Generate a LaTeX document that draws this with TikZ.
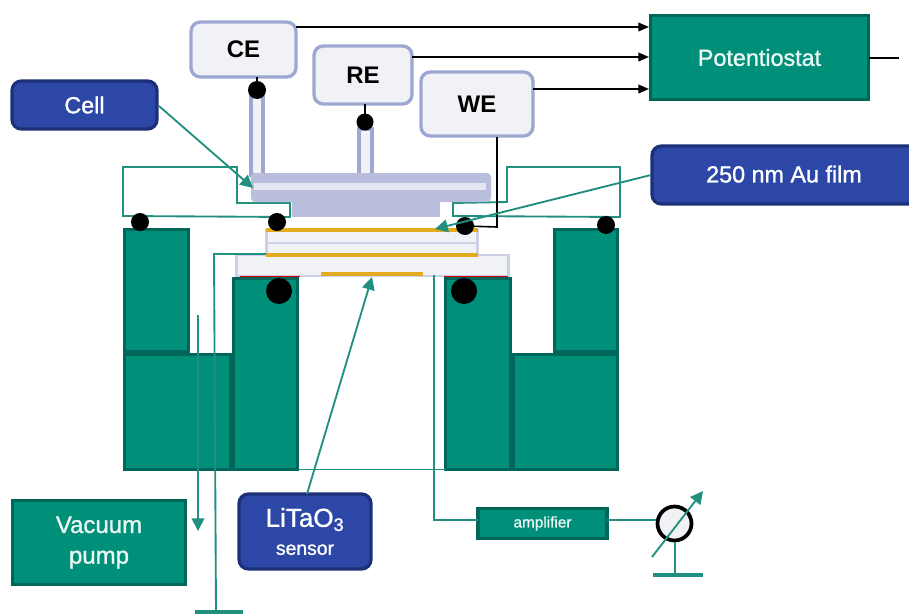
\documentclass[tikz,border=0pt]{standalone}
\usepackage{fontspec}
\setmainfont{Liberation Sans}
\newfontfamily\semibold[FakeBold=1.2]{Liberation Sans}
\usetikzlibrary{arrows.meta,calc}
\definecolor{tealf}{HTML}{009079}
\definecolor{teald}{HTML}{00665A}
\definecolor{teall}{HTML}{22907F}
\definecolor{bluef}{HTML}{2C47A6}
\definecolor{blued}{HTML}{1C2F78}
\definecolor{lightf}{HTML}{F1F2F6}
\definecolor{lightd}{HTML}{9DA7D2}
\definecolor{lav}{HTML}{B9BEDD}
\definecolor{lavl}{HTML}{E4E6F1}
\definecolor{gold}{HTML}{E3AC20}
\tikzset{
 sz/.style 2 args={minimum width=#1*0.75pt,minimum height=#2*0.75pt,inner sep=0pt,outer sep=0pt},
 ebox/.style={draw=lightd,fill=lightf,line width=2.5pt,rounded corners=7pt,font=\bfseries\fontsize{18}{20}\selectfont,text=black},
 lblue/.style={draw=blued,fill=bluef,line width=2.4pt,rounded corners=7pt,text=white,font=\semibold\fontsize{17.5}{20}\selectfont},
 tbox/.style={draw=teald,fill=tealf,line width=2.4pt,text=white!92!tealf,font=\semibold\fontsize{17.5}{22}\selectfont,align=center},
 block/.style={draw=teald,fill=tealf,line width=2.6pt},
 oring/.style={circle,fill=black,inner sep=0pt,outer sep=0pt},
 wire/.style={draw=black,line width=1.2pt},
 twire/.style={draw=teall,line width=1.4pt},
 blackarrow/.style={wire,-{Triangle[length=8pt,width=6.5pt]}},
 tealarrow/.style={twire,-{Triangle[length=9.5pt,width=9.5pt]}},
 gasket/.style={draw=lightf!55!lightd,fill=lightf,line width=1.6pt},
 goldl/.style={draw=gold,line width=2.6pt},
 tube/.style={draw=lightd,fill=lightf,line width=2.3pt},
 gbar/.style={draw=teall,line width=3pt},
}
\begin{document}
\begin{tikzpicture}[x=0.75pt,y=-0.75pt]
\useasboundingbox (0,0) rectangle (909,614);
% block bodies
\node[block,sz={64}{122}] (tl) at (156.5,290.5) {};
\node[block,sz={106}{115}] (bl) at (177.5,412) {};
\node[block,sz={64}{191}] (il) at (265.5,374) {};
\node[block,sz={65}{191}] (ir) at (478,374) {};
\node[block,sz={104}{115}] (br) at (565.5,412) {};
\node[block,sz={63}{122}] (tr) at (586,290.5) {};
% chamber outlines
\coordinate (la) at (123,167);\coordinate (lb) at (237,167);\coordinate (lc) at (237,203);\coordinate (ld) at (290,203);\coordinate (le) at (290,217);\coordinate (lf) at (123,216);
\draw[twire] (la) -- (lb) -- (lc) -- (ld) -- (le) -- (lf) -- cycle;
\coordinate (ra) at (507,167);\coordinate (rb) at (620,167);\coordinate (rc) at (620,217);\coordinate (rd) at (453,216);\coordinate (re) at (453,203);\coordinate (rf) at (507,202);
\draw[twire] (ra) -- (rb) -- (rc) -- (rd) -- (re) -- (rf) -- cycle;
% cell
\node[tube,sz={12}{86}] (tce) at (257,132) {};
\node[tube,sz={13}{46}] (tre) at (365.5,152) {};
\node[draw=none,fill=lav,sz={148}{24}] (clow) at (366,205) {};
\node[draw=none,fill=lav,rounded corners=3pt,sz={240}{29}] (ctop) at (371,187.5) {};
\node[draw=none,fill=lavl,sz={232}{7}] (cstrip) at (370,186.5) {};
% sensor plates
\node[gasket,sz={211}{25}] (p1) at (372,243) {};
\draw[draw=lavl!50!lav,line width=2.2pt] (p1.west) -- (p1.east);
\node[gasket,sz={272}{21}] (p2) at (372.5,265.5) {};
\draw[goldl] (266,230) -- (478,230);
\draw[goldl] (266,255) -- (478,255);
\draw[goldl] (321,274) -- (423,274);
\draw[draw=red!80!black,line width=0.6pt] (240,276) -- (300,276);
\draw[draw=red!80!black,line width=0.6pt] (444,276) -- (508,276);
% o-rings
\node[oring,minimum size=18*0.75pt] (o1) at (140,222) {};
\node[oring,minimum size=18*0.75pt] (o2) at (277,222) {};
\node[oring,minimum size=18*0.75pt] (o3) at (465,226) {};
\node[oring,minimum size=18*0.75pt] (o4) at (606,225) {};
\node[oring,minimum size=26*0.75pt] (o5) at (279,291) {};
\node[oring,minimum size=26*0.75pt] (o6) at (464,291) {};
% electrodes
\node[ebox,sz={105}{55}] (ce) at (243.5,49.5) {CE};
\node[ebox,sz={98}{58}] (rr) at (363,75) {RE};
\node[ebox,sz={112}{64}] (we) at (477,104) {WE};
\node[tbox,sz={218}{84}] (pot) at (759.5,57.5) {Potentiostat};
\coordinate (p1i) at (649,27);\coordinate (p2i) at (649,57);\coordinate (p3i) at (649,89);\coordinate (pout) at (899,58);
\draw[blackarrow] (ce.east |- p1i) -- (p1i);
\draw[blackarrow] (rr.east |- p2i) -- (p2i);
\draw[blackarrow] (we.east |- p3i) -- (p3i);
\draw[wire] (pot.east |- pout) -- (pout);
\node[oring,minimum size=18*0.75pt] (dce) at (257,90) {};
\node[oring,minimum size=17*0.75pt] (dre) at (365,122) {};
\draw[wire] (dce) -- (ce.south -| dce);
\draw[wire] (dre) -- (rr.south -| dre);
\coordinate (wetap) at (497,137);
\coordinate (wecor) at (497,227);
\draw[wire] (wetap) -- (wecor) -- (o3);
% labels
\node[lblue,sz={145}{48}] (cell) at (84.5,105) {Cell};
\node[lblue,sz={268}{58}] (au) at (786,175) {\raisebox{1.5pt}{250 nm Au film\hspace{3pt}}};
\node[lblue,sz={132}{75},align=center,font=\semibold\fontsize{19.5}{22}\selectfont] (lt) at (305,531.5) {LiTaO\textsubscript{3}\\[-1pt]{\fontsize{14.5}{16}\selectfont sensor}};
\node[tbox,sz={173}{84},font=\semibold\fontsize{18}{22}\selectfont] (vac) at (99,542.5) {\raisebox{-2pt}{Vacuum}\\\raisebox{-3pt}{pump}};
\node[tbox,sz={129}{30},font=\semibold\fontsize{11.5}{13}\selectfont] (amp) at (542.5,523.5) {amplifier};
% pointers
\coordinate (cellt) at (253,188);\coordinate (cells) at (159,106);
\draw[tealarrow] (cells) -- (cellt);
\coordinate (aut) at (435,229);\coordinate (aus) at (651,175);
\draw[tealarrow] (aus) -- (aut);
\coordinate (ltt) at (372,277);
\draw[tealarrow] (lt.north) ++(2,0) -- (ltt);
% vacuum line & grounds
\coordinate (vt) at (198,315);\coordinate (vb) at (198,531);
\draw[tealarrow] (vt) -- (vb);
\coordinate (g1a) at (214,254);\coordinate (g1b) at (266,254);\coordinate (g1c) at (216,612);
\draw[twire] (g1b) -- (g1a) -- (g1c);
\coordinate (g1l) at (195,612);\coordinate (g1r) at (243,612);
\draw[gbar] (g1l) -- (g1r);
\draw[twire] (il.south east) -- (ir.south west);
\coordinate (aa) at (434,275);\coordinate (ab) at (434,520);
\draw[twire] (aa) -- (ab) -- (ab -| amp.west);
% meter
\node[circle,draw=black,fill=lightf,line width=2.8pt,minimum size=34*0.75pt,inner sep=0pt] (m) at (674.5,523.5) {};
\draw[twire] (amp.east |- ab) -- (ab -| m.west);
\coordinate (ms) at (652,557);\coordinate (mt) at (703,491);
\draw[tealarrow] (ms) -- (mt);
\coordinate (gm) at (675,575);
\draw[twire] (m.south -| gm) -- (gm);
\coordinate (gml) at (653,575);\coordinate (gmr) at (703,575);
\draw[gbar] (gml) -- (gmr);
\end{tikzpicture}
\end{document}
